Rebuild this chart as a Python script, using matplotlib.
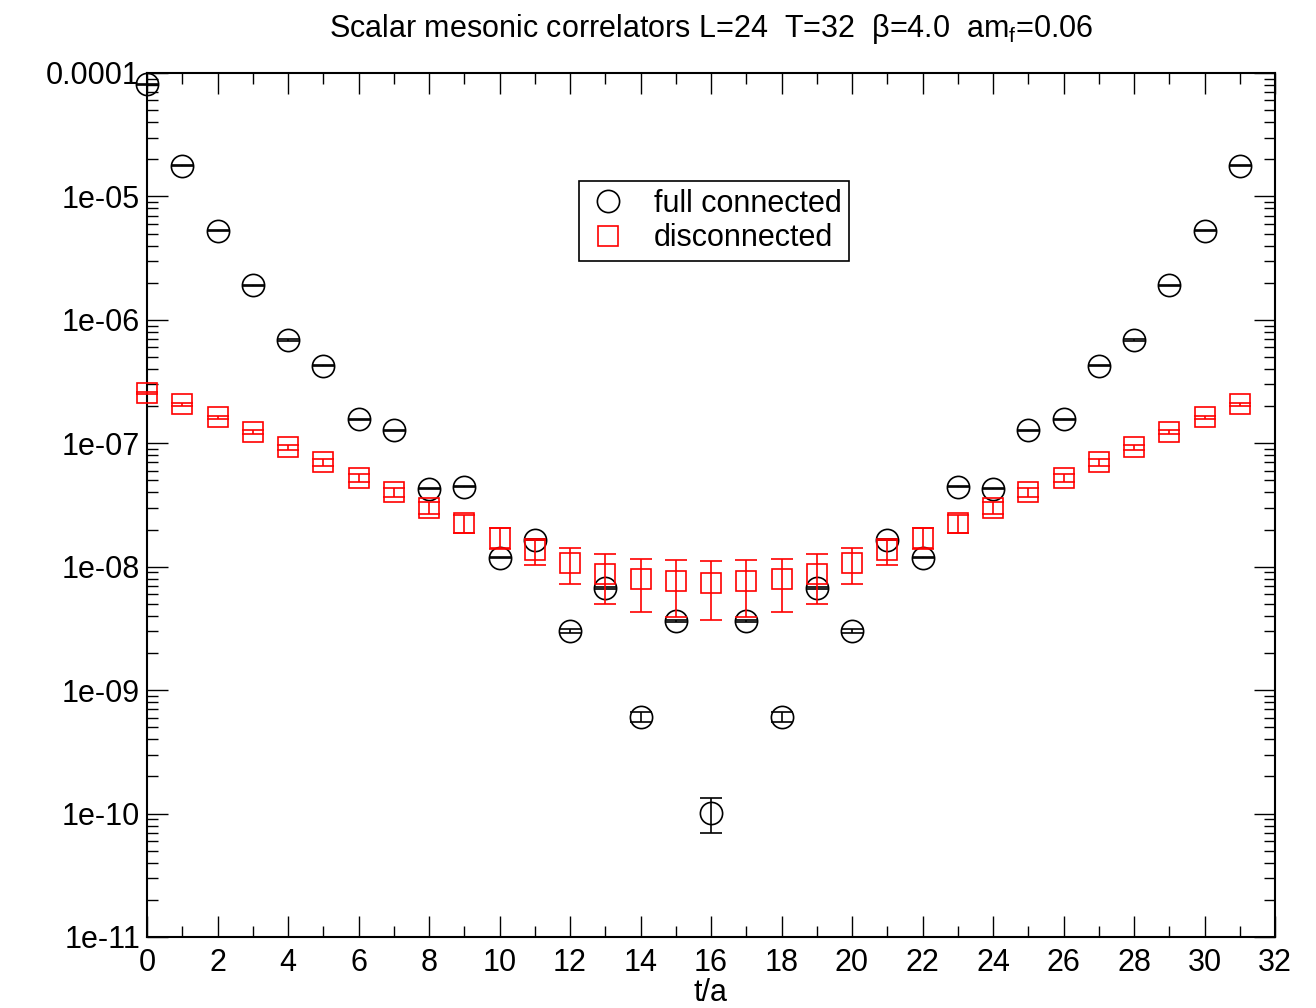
import matplotlib
matplotlib.use("Agg")
import matplotlib.pyplot as plt
from matplotlib.lines import Line2D
from matplotlib.ticker import FixedLocator, LogLocator, MultipleLocator, NullFormatter

plt.rcParams['font.family'] = ['Liberation Sans', 'DejaVu Sans']
plt.rcParams['mathtext.fontset'] = 'custom'
plt.rcParams['mathtext.rm'] = 'Liberation Sans'

# data
t = list(range(32))
full_conn = [8.1e-5, 1.77e-5, 5.25e-6, 1.91e-6, 6.87e-7, 4.23e-7, 1.57e-7, 1.28e-7,
             4.27e-8, 4.43e-8, 1.18e-8, 1.65e-8, 3.01e-9, 6.73e-9, 6.07e-10, 3.63e-9,
             1.01e-10, 3.63e-9, 6.07e-10, 6.73e-9, 3.01e-9, 1.65e-8, 1.18e-8, 4.43e-8,
             4.27e-8, 1.28e-7, 1.57e-7, 4.23e-7, 6.87e-7, 1.91e-6, 5.25e-6, 1.77e-5]
full_err = [8e-7, 1.8e-7, 5e-8, 2e-8, 7e-9, 4e-9, 1.6e-9, 1.3e-9,
            4e-10, 4e-10, 1.2e-10, 1.6e-10, 1.1e-10, 1.3e-10, 5.5e-11, 7e-11,
            3.2e-11, 7e-11, 5.5e-11, 1.3e-10, 1.1e-10, 1.6e-10, 1.2e-10, 4e-10,
            4e-10, 1.3e-9, 1.6e-9, 4e-9, 7e-9, 2e-8, 5e-8, 1.8e-7]
disc = [2.54e-7, 2.07e-7, 1.62e-7, 1.23e-7, 9.28e-8, 7.01e-8, 5.26e-8, 4.01e-8,
        3.01e-8, 2.26e-8, 1.72e-8, 1.36e-8, 1.07e-8, 8.8e-9, 7.9e-9, 7.6e-9,
        7.4e-9, 7.6e-9, 7.9e-9, 8.8e-9, 1.07e-8, 1.36e-8, 1.72e-8, 2.26e-8,
        3.01e-8, 4.01e-8, 5.26e-8, 7.01e-8, 9.28e-8, 1.23e-7, 1.62e-7, 2.07e-7]
disc_err = [5e-9, 6e-9, 5e-9, 5e-9, 4.5e-9, 4.2e-9, 3.7e-9, 3.6e-9,
            3.6e-9, 3.8e-9, 3.3e-9, 3.2e-9, 3.4e-9, 3.8e-9, 3.6e-9, 3.7e-9,
            3.7e-9, 3.7e-9, 3.6e-9, 3.8e-9, 3.4e-9, 3.2e-9, 3.3e-9, 3.8e-9,
            3.6e-9, 3.6e-9, 3.7e-9, 4.2e-9, 4.5e-9, 5e-9, 5e-9, 6e-9]

y_ticks = [1e-11, 1e-10, 1e-9, 1e-8, 1e-7, 1e-6, 1e-5, 1e-4]
y_ticklabels = ["1e-11", "1e-10", "1e-09", "1e-08", "1e-07", "1e-06", "1e-05", "0.0001"]

FS = 22

fig = plt.figure(figsize=(13.16, 10.08), dpi=100)
ax = fig.add_axes([147 / 1316, 1 - 937 / 1008, 1128 / 1316, 864 / 1008])

ax.errorbar(t, full_conn, yerr=full_err, fmt='o', ms=16, mfc='none', mec='black',
            mew=1.2, ecolor='black', elinewidth=1.2, capsize=8, capthick=1.2,
            clip_on=False, zorder=3)
ax.errorbar(t, disc, yerr=disc_err, fmt='s', ms=14, mfc='none', mec='red',
            mew=1.2, ecolor='red', elinewidth=1.2, capsize=8, capthick=1.2,
            clip_on=False, zorder=4)

ax.set_yscale('log')
ax.set_xlim(0, 32)
ax.set_ylim(1e-11, 1e-4)
ax.xaxis.set_major_locator(MultipleLocator(2))
ax.xaxis.set_minor_locator(MultipleLocator(1))
ax.yaxis.set_major_locator(FixedLocator(y_ticks))
ax.set_yticklabels(y_ticklabels)
ax.yaxis.set_minor_locator(LogLocator(base=10, subs=range(2, 10)))
ax.yaxis.set_minor_formatter(NullFormatter())

ax.tick_params(which='both', direction='in', top=True, right=True, width=1.0,
               labelsize=FS)
ax.tick_params(which='major', length=15)
ax.tick_params(which='minor', length=8)
ax.tick_params(axis='x', which='major', pad=8)
ax.tick_params(axis='y', which='major', pad=5)
for s in ax.spines.values():
    s.set_linewidth(1.5)

ax.set_xlabel("t/a", fontsize=FS, labelpad=0)
ax.set_title(r"Scalar mesonic correlators L=24  T=32  β=4.0  am$_\mathrm{f}$=0.06",
             fontsize=FS, pad=26)

handles = [
    Line2D([], [], ls='none', marker='o', ms=16, mfc='none', mec='black', mew=1.2),
    Line2D([], [], ls='none', marker='s', ms=14, mfc='none', mec='red', mew=1.2),
]
leg = ax.legend(handles, ["full connected", "disconnected"], loc='upper left',
                bbox_to_anchor=(0.383, 0.875), fontsize=FS, frameon=True,
                fancybox=False, edgecolor='black', framealpha=1, borderpad=0.25,
                handletextpad=0.8, labelspacing=0.15, handlelength=1.4,
                borderaxespad=0)
leg.get_frame().set_linewidth(1.2)

fig.savefig("out.png", dpi=100)
